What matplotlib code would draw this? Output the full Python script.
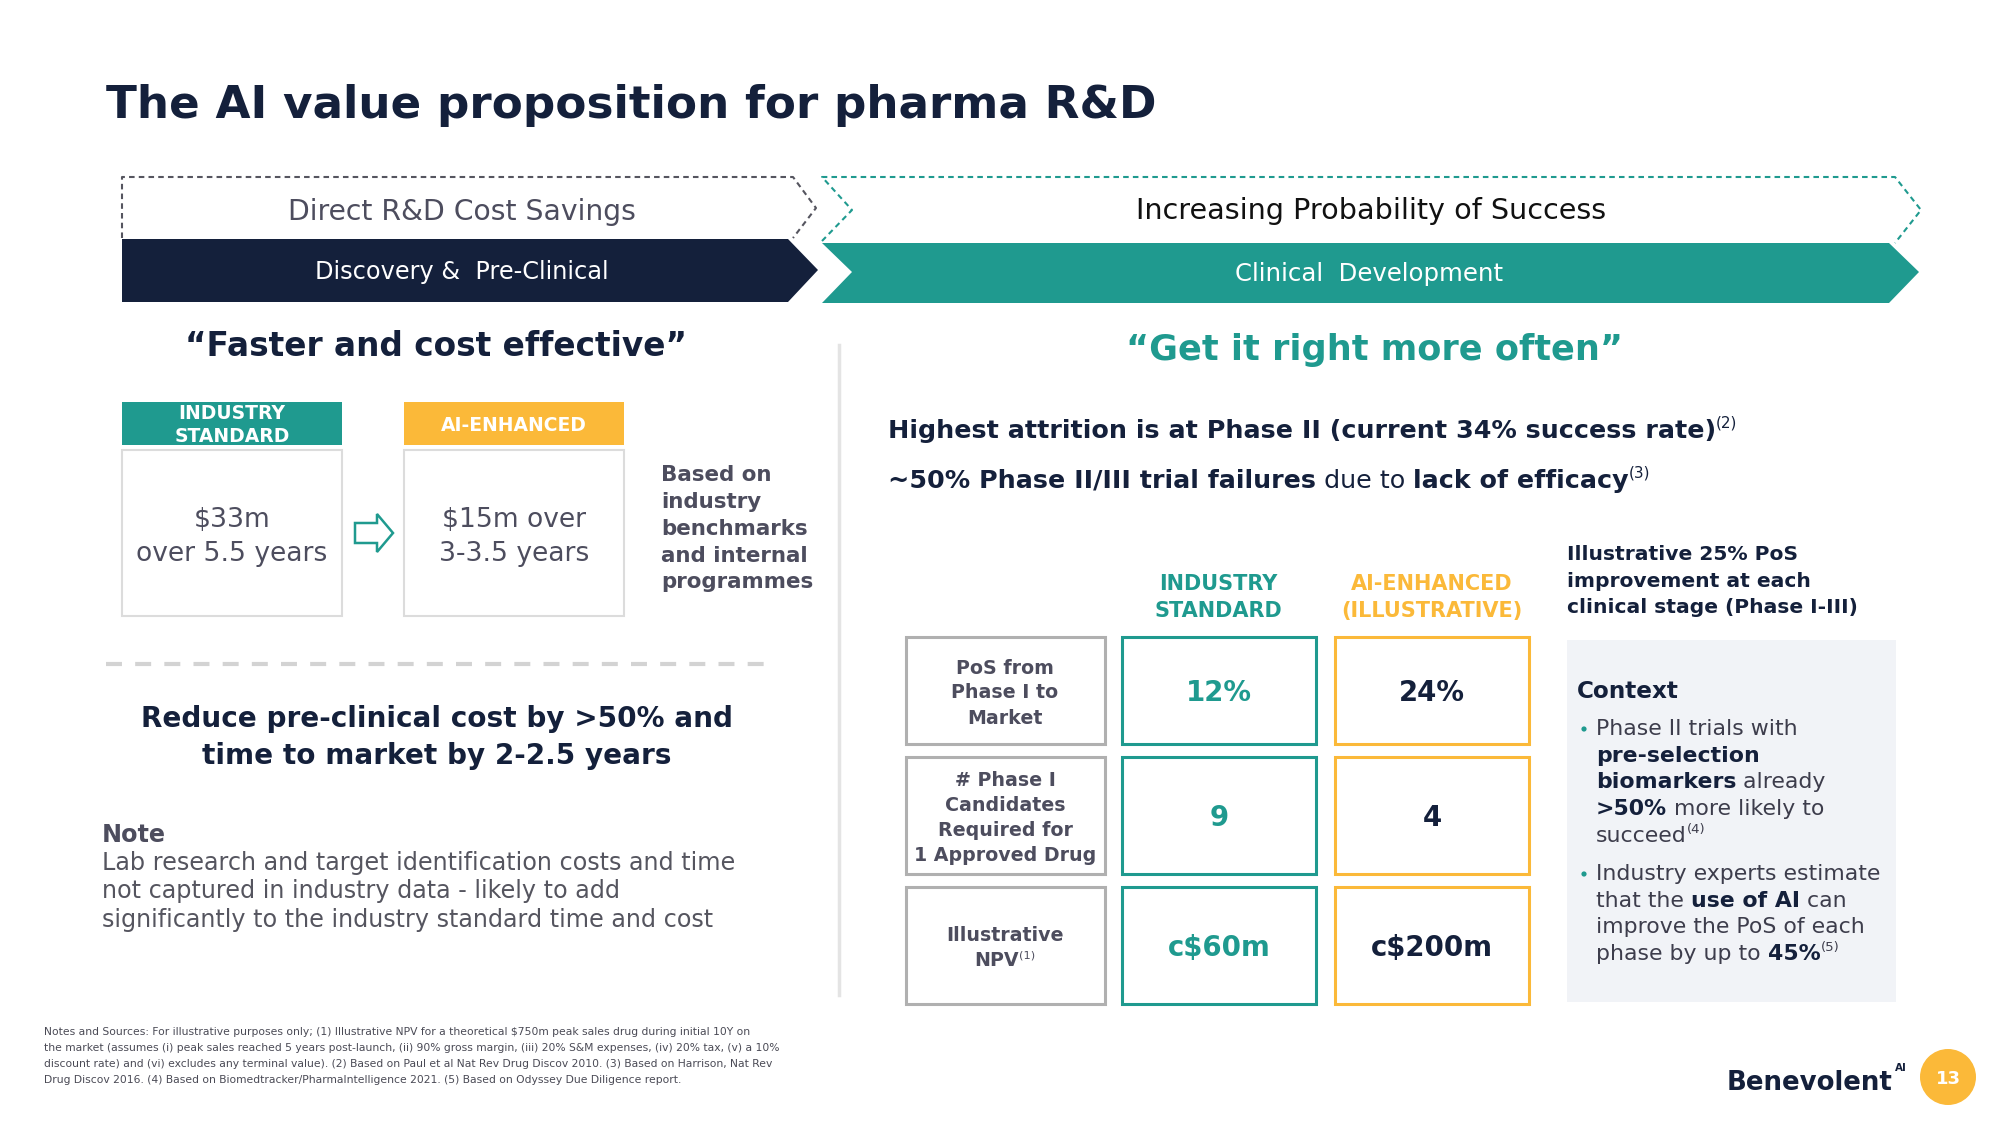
import matplotlib
matplotlib.use("Agg")
import matplotlib.pyplot as plt
from matplotlib.patches import Polygon, Rectangle, Circle

plt.rcParams['font.family'] = ['DejaVu Sans']
plt.rcParams['text.parse_math'] = False
plt.rcParams['lines.scale_dashes'] = False

# ---- content ----
title = "The AI value proposition for pharma R&D"
phase_top = ["Direct R&D Cost Savings", "Increasing Probability of Success"]
phase_bar = ["Discovery &  Pre-Clinical", "Clinical  Development"]
taglines = ["\u201cFaster and cost effective\u201d", "\u201cGet it right more often\u201d"]

left_headers = ["INDUSTRY\nSTANDARD", "AI-ENHANCED"]
left_values = ["$33m\nover 5.5 years", "$15m over\n3-3.5 years"]
based_on = ["Based on", "industry", "benchmarks", "and internal", "programmes"]
reduce_lines = ["Reduce pre-clinical cost by >50% and", "time to market by 2-2.5 years"]
note_lines = ["Lab research and target identification costs and time",
              "not captured in industry data - likely to add",
              "significantly to the industry standard time and cost"]

col_headers = ["INDUSTRY\nSTANDARD", "AI-ENHANCED\n(ILLUSTRATIVE)"]
row_labels = [["PoS from", "Phase I to", "Market"],
              ["# Phase I", "Candidates", "Required for", "1 Approved Drug"],
              ["Illustrative", "NPV"]]
row_notes = [None, None, "(1)"]
industry_vals = ["12%", "9", "c$60m"]
ai_vals = ["24%", "4", "c$200m"]

side_title = ["Illustrative 25% PoS", "improvement at each", "clinical stage (Phase I-III)"]
bullet1 = [[("Phase II trials with", "n")],
           [("pre-selection", "b")],
           [("biomarkers", "b"), (" already", "n")],
           [(">50%", "b"), (" more likely to", "n")],
           [("succeed", "n"), ("(4)", "sup")]]
bullet2 = [[("Industry experts estimate", "n")],
           [("that the ", "n"), ("use of AI", "b"), (" can", "n")],
           [("improve the PoS of each", "n")],
           [("phase by up to ", "n"), ("45%", "b"), ("(5)", "sup")]]

footnotes = [
    "Notes and Sources: For illustrative purposes only; (1) Illustrative NPV for a theoretical $750m peak sales drug during initial 10Y on",
    "the market (assumes (i) peak sales reached 5 years post-launch, (ii) 90% gross margin, (iii) 20% S&M expenses, (iv) 20% tax, (v) a 10%",
    "discount rate) and (vi) excludes any terminal value). (2) Based on Paul et al Nat Rev Drug Discov 2010. (3) Based on Harrison, Nat Rev",
    "Drug Discov 2016. (4) Based on Biomedtracker/PharmaIntelligence 2021. (5) Based on Odyssey Due Diligence report.",
]

NAVY = '#14203b'
TEAL = '#1f9a8f'
YELLOW = '#fbb939'
GREY = '#4d4d5e'
BODY = '#55555f'

fig = plt.figure(figsize=(20, 11.25), dpi=100)
ax = fig.add_axes([0, 0, 1, 1])
ax.set_xlim(0, 2000)
ax.set_ylim(1125, 0)
ax.axis('off')
R = fig.canvas.get_renderer()
PX = 100 / 72


def textw(s, size, weight='normal'):
    t = ax.text(0, 0, s + '|', fontsize=size, fontweight=weight)
    w1 = t.get_window_extent(R).width
    t.set_text('|')
    w2 = t.get_window_extent(R).width
    t.remove()
    return w1 - w2


def fit(s, width, weight='normal'):
    return 20 * width / textw(s, 20, weight)


def put(x, y, s, size, color, weight='normal', ha='left'):
    return ax.text(x, y, s, fontsize=size, color=color, fontweight=weight,
                   ha=ha, va='baseline')


def mid(x, cy, s, size, color, weight='normal'):
    return put(x, cy + 0.729 * size * PX / 2, s, size, color, weight, ha='center')


def rich(x, y, parts, size, colors, ha='left'):
    def spec(k):
        sz = size * 0.6 if k == 'sup' else size
        return sz, ('bold' if k == 'b' else 'normal')
    total = sum(textw(s, *spec(k)) for s, k in parts)
    cx = x - total / 2 if ha == 'center' else x
    for s, k in parts:
        sz, w = spec(k)
        dy = -0.42 * size * PX if k == 'sup' else 0
        put(cx, y + dy, s, sz, colors[k], w)
        cx += textw(s, sz, w)


# ---- title ----
put(106, 118, title, fit(title, 1052, 'bold'), NAVY, 'bold')

# ---- phase chevrons ----
ax.plot([122, 122, 793, 816, 793], [238, 177, 177, 208, 238],
        color='#55555f', lw=1.5, ls=(0, (4, 3)))
ax.plot([822, 852, 822, 1895, 1921, 1895], [241, 210, 177, 177, 210, 243],
        color=TEAL, lw=1.5, ls=(0, (4, 3)))
ax.add_patch(Polygon([(122, 239), (788, 239), (818, 270), (788, 302), (122, 302)],
                     closed=True, fc=NAVY, ec='none'))
ax.add_patch(Polygon([(822, 243), (1889, 243), (1919, 272), (1889, 303), (822, 303), (852, 272)],
                     closed=True, fc=TEAL, ec='none'))
mid(462, 210, phase_top[0], fit(phase_top[0], 348), GREY)
mid(1371, 209, phase_top[1], fit(phase_top[1], 469), '#111111')
mid(462, 270, phase_bar[0], fit(phase_bar[0], 293), 'white')
mid(1369, 272, phase_bar[1], fit(phase_bar[1], 267), 'white')

mid(436, 344, taglines[0], fit(taglines[0], 503, 'bold'), NAVY, 'bold')
mid(1375, 347, taglines[1], fit(taglines[1], 497, 'bold'), TEAL, 'bold')

ax.plot([839, 839], [345, 995], color='#e4e4e4', lw=2.5)

# ---- left: cost comparison ----
hdr_size = fit("STANDARD", 115, 'bold')
val_size = fit("over 5.5 years", 191)
for x0, head, val, col in zip([122, 404], left_headers, left_values, [TEAL, YELLOW]):
    ax.add_patch(Rectangle((x0, 402), 220, 43, fc=col, ec='none'))
    ax.add_patch(Rectangle((x0, 450), 220, 166, fc='white', ec='#dcdcdc', lw=1.5))
    hl = head.split('\n')
    ys = [412, 435] if len(hl) == 2 else [424]
    for s, y in zip(hl, ys):
        mid(x0 + 110, y, s, hdr_size, 'white', 'bold')
    for s, y in zip(val.split('\n'), [517, 551]):
        mid(x0 + 110, y, s, val_size, GREY)

ax.add_patch(Polygon([(355, 523), (377, 523), (377, 514), (393, 533), (377, 552), (377, 543), (355, 543)],
                     closed=True, fill=False, ec=TEAL, lw=1.8))

bsize = fit("benchmarks", 147, 'bold')
for s, y in zip(based_on, [473, 500, 527, 554, 580]):
    put(661, y + 0.729 * bsize * PX / 2, s, bsize, GREY, 'bold')

ax.plot([106, 764], [664, 664], color='#d3d3d3', lw=3, ls=(0, (11.5, 9.5)))

rsize = fit(reduce_lines[0], 592, 'bold')
for s, y in zip(reduce_lines, [727, 764]):
    put(437, y, s, rsize, NAVY, 'bold', ha='center')

nsize = fit(note_lines[0], 633)
put(102, 842, "Note", nsize, GREY, 'bold')
for s, y in zip(note_lines, [870, 898, 927]):
    put(102, y, s, nsize, BODY)

# ---- right: PoS ----
hsize = fit("Highest attrition is at Phase II (current 34% success rate)", 827, 'bold')
cols = {'b': NAVY, 'n': NAVY, 'sup': NAVY}
rich(888, 438, [("Highest attrition is at Phase II (current 34% success rate)", 'b'), ("(2)", 'sup')], hsize, cols)
rich(888, 488, [("~50% Phase II/III trial failures", 'b'), (" due to ", 'n'),
                ("lack of efficacy", 'b'), ("(3)", 'sup')], hsize, cols)

chsize = fit("(ILLUSTRATIVE)", 182, 'bold')
for cx, head, col in zip([1218, 1432], col_headers, [TEAL, YELLOW]):
    for s, y in zip(head.split('\n'), [590, 617]):
        put(cx, y, s, chsize, col, 'bold', ha='center')

row_top = [637, 757, 887]
row_bot = [744, 874, 1004]
lsize = fit("1 Approved Drug", 182, 'bold')
vsize = fit("c$200m", 122, 'bold')
for i in range(len(row_labels)):
    y0, y1 = row_top[i], row_bot[i]
    cy = (y0 + y1) / 2
    ax.add_patch(Rectangle((906, y0), 199, y1 - y0, fc='white', ec='#b0b0b0', lw=2.2))
    ax.add_patch(Rectangle((1122, y0), 194, y1 - y0, fc='white', ec=TEAL, lw=2.2))
    ax.add_patch(Rectangle((1335, y0), 194, y1 - y0, fc='white', ec=YELLOW, lw=2.2))
    lines = row_labels[i]
    n = len(lines)
    for j, s in enumerate(lines):
        yb = cy + 8 + (j - (n - 1) / 2) * 25
        if j == n - 1 and row_notes[i]:
            rich(1005, yb, [(s, 'b'), (row_notes[i], 'sup')], lsize,
                 {'b': GREY, 'sup': GREY}, ha='center')
        else:
            put(1005, yb, s, lsize, GREY, 'bold', ha='center')
    mid(1219, cy, industry_vals[i], vsize, TEAL, 'bold')
    mid(1432, cy, ai_vals[i], vsize, NAVY, 'bold')

ssize = fit(side_title[2], 290, 'bold')
for s, y in zip(side_title, [560, 587, 613]):
    put(1567, y, s, ssize, NAVY, 'bold')

ax.add_patch(Rectangle((1567, 640), 329, 362, fc='#f1f3f7', ec='none'))
csize = fit("Industry experts estimate", 284)
put(1577, 698, "Context", csize * 1.05, NAVY, 'bold')
bcols = {'n': '#3d3d4c', 'b': NAVY, 'sup': '#3d3d4c'}
for lines, y_start in [(bullet1, 735), (bullet2, 880)]:
    ax.add_patch(Circle((1584, y_start - 6), 2.6, fc=TEAL, ec='none'))
    for j, parts in enumerate(lines):
        rich(1596, y_start + j * 26.7, parts, csize, bcols)

# ---- footnotes & branding ----
fsize = fit(footnotes[0], 707)
for s, y in zip(footnotes, [1035, 1051, 1067, 1083]):
    put(44, y, s, fsize, '#4a4a55')

put(1727, 1090, "Benevolent", fit("Benevolent", 166, 'bold'), NAVY, 'bold')
put(1895, 1071, "AI", 7.5, NAVY, 'bold')
ax.add_patch(Circle((1948, 1077), 28, fc=YELLOW, ec='none'))
mid(1948, 1077, "13", 13, 'white', 'bold')

fig.savefig("out.png", dpi=100, facecolor='white')
